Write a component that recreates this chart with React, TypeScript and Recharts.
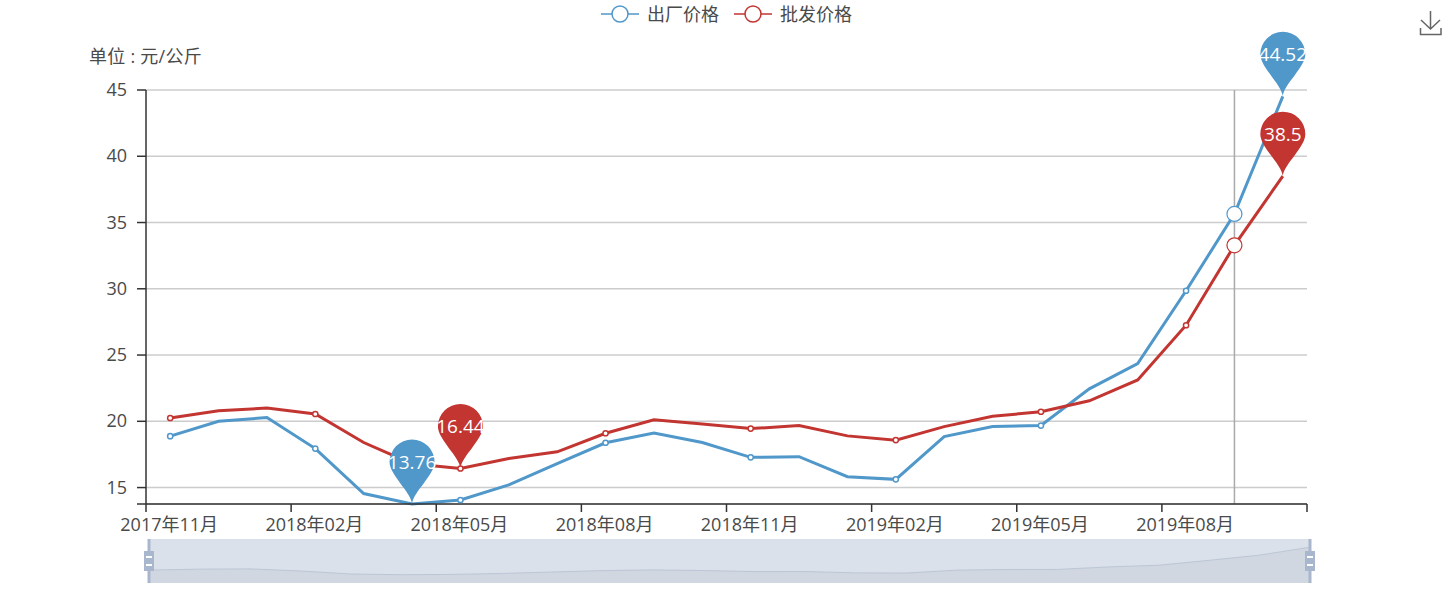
import React from "react";
import { LineChart, Line, XAxis, YAxis, CartesianGrid, ReferenceLine, ReferenceDot, Legend, Brush, AreaChart, Area } from "recharts";

const months = [
  "2017年11月", "2017年12月", "2018年01月", "2018年02月", "2018年03月", "2018年04月",
  "2018年05月", "2018年06月", "2018年07月", "2018年08月", "2018年09月", "2018年10月",
  "2018年11月", "2018年12月", "2019年01月", "2019年02月", "2019年03月", "2019年04月",
  "2019年05月", "2019年06月", "2019年07月", "2019年08月", "2019年09月", "2019年10月",
];
const factoryPrice = [
  18.88, 20.0, 20.28, 17.94, 14.55, 13.76, 14.06, 15.2, 16.8, 18.38, 19.12, 18.4,
  17.28, 17.33, 15.82, 15.62, 18.85, 19.6, 19.68, 22.45, 24.35, 29.85, 35.65, 44.52,
];
const wholesalePrice = [
  20.25, 20.8, 21.0, 20.55, 18.4, 16.8, 16.44, 17.2, 17.7, 19.1, 20.12, 19.8,
  19.45, 19.68, 18.9, 18.58, 19.6, 20.38, 20.72, 21.55, 23.12, 27.25, 33.28, 38.5,
];
const yTicks = [13.76, 15, 20, 25, 30, 35, 40, 45];

const BLUE = "#5097ca";
const RED = "#c23531";
const TEXT = "#4a4a4a";
const FONT = "'Open Sans', 'Noto Sans CJK SC', sans-serif";

const WIDTH = 1452;
const HEIGHT = 594;
const PLOT_LEFT = 146;
const PLOT_RIGHT = 1307;
const band = (PLOT_RIGHT - PLOT_LEFT) / months.length;
const HOVER = 22;

const data = months.map((month, i) => ({ month, factory: factoryPrice[i], wholesale: wholesalePrice[i] }));

function XTick({ x, y, payload, index }: any) {
  const left = x - band / 2;
  const isLast = index === Math.floor((months.length - 1) / 3);
  return (
    <g>
      <line x1={left} x2={left} y1={y} y2={y + 8} stroke="#333" strokeWidth={1.5} />
      {isLast && <line x1={left + band * 3} x2={left + band * 3} y1={y} y2={y + 8} stroke="#333" strokeWidth={1.5} />}
      <text x={x - 1} y={y + 27} textAnchor="middle" fontSize={18} fontFamily={FONT} fill={TEXT}>{payload.value}</text>
    </g>
  );
}

function YTick({ x, y, payload }: any) {
  if (payload.value === yTicks[0]) return null;
  return (
    <text x={x - 8} y={y + 6} textAnchor="end" fontSize={18} fontFamily={FONT} fill={TEXT}>{payload.value}</text>
  );
}

// small open circles on every third month, larger one on the hovered month
function makeDot(color: string, values: number[]) {
  return function SeriesDot({ cx, cy, index }: any) {
    if (index === HOVER) {
      return <circle key={index} cx={cx} cy={cy} r={7.5} fill="#fff" stroke={color} strokeWidth={1.2} />;
    }
    if (index % 3 === 0 && index < values.length - 1) {
      return <circle key={index} cx={cx} cy={cy} r={2.6} fill="#fff" stroke={color} strokeWidth={1.5} />;
    }
    return <g key={index} />;
  };
}

function Pin({ cx, cy, color, label }: any) {
  const top = cy - 42;
  return (
    <g>
      <path
        d={`M${cx} ${cy}
            C${cx - 1} ${cy - 12} ${cx - 22.5} ${top + 13} ${cx - 22.5} ${top}
            A22.5 22.5 0 1 1 ${cx + 22.5} ${top}
            C${cx + 22.5} ${top + 13} ${cx + 1} ${cy - 12} ${cx} ${cy}Z`}
        fill={color}
      />
      <text x={cx} y={top + 7} textAnchor="middle" fontSize={19} fontFamily={FONT} fill="#fff">{label}</text>
    </g>
  );
}

function Handle({ x, y, width, height }: any) {
  const midY = y + height / 2;
  return (
    <g>
      <rect x={x + width / 2 - 1.5} y={y} width={3} height={height} fill="#a9b7ce" />
      <rect x={x} y={midY - 10} width={width} height={20} fill="#a9b7ce" />
      <rect x={x + 2} y={midY - 5} width={width - 4} height={2} fill="#fff" />
      <rect x={x + 2} y={midY + 3} width={width - 4} height={2} fill="#fff" />
    </g>
  );
}

function LegendContent() {
  const items = [
    { name: "出厂价格", color: BLUE },
    { name: "批发价格", color: RED },
  ];
  return (
    <div style={{ display: "flex", gap: 15, fontFamily: FONT, fontSize: 18, color: TEXT, lineHeight: "24px" }}>
      {items.map((item) => (
        <div key={item.name} style={{ display: "flex", alignItems: "center", gap: 8 }}>
          <svg width={38} height={24}>
            <line x1={0} x2={38} y1={12} y2={12} stroke={item.color} strokeWidth={1.5} />
            <circle cx={19} cy={12} r={8} fill="#fff" stroke={item.color} strokeWidth={1.5} />
          </svg>
          <span>{item.name}</span>
        </div>
      ))}
    </div>
  );
}

export default function App() {
  return (
    <div style={{ position: "absolute", left: 0, top: 0, width: WIDTH, height: HEIGHT, background: "#fff" }}>
      <div style={{ position: "absolute", left: 89, top: 44, fontFamily: FONT, fontSize: 18, color: TEXT, lineHeight: "24px", letterSpacing: 0.25 }}>
        单位 : 元/公斤
      </div>
      <svg style={{ position: "absolute", left: 1418, top: 10 }} width={26} height={26} fill="none" stroke="#666" strokeWidth={1.5}>
        <path d="M12.5 1V19M3 10L12.5 19L22 10M2.5 18V24.5H23V18" />
      </svg>
      {/* slider background: thumbnail of the first series */}
      <div style={{ position: "absolute", left: 149, top: 539, width: 1161, height: 44, background: "#dbe1ea" }}>
        <AreaChart width={1161} height={44} data={data} margin={{ top: 0, right: 0, bottom: 0, left: 0 }}>
          <XAxis dataKey="month" hide />
          <YAxis hide type="number" domain={[4.5, 53.7]} />
          <Area dataKey="factory" stroke="#bcc6d6" strokeWidth={1} fill="#d0d7e1" fillOpacity={1} isAnimationActive={false} />
        </AreaChart>
      </div>
      <LineChart
        width={WIDTH}
        height={HEIGHT}
        data={data}
        margin={{ top: 90, left: 106, right: WIDTH - PLOT_RIGHT, bottom: 16 }}
        style={{ position: "absolute", left: 0, top: 0 }}
      >
        <CartesianGrid vertical={false} stroke="#ccc" strokeWidth={1.5} />
        <XAxis
          dataKey="month"
          scale="band"
          interval={2}
          height={30}
          tickLine={false}
          tickSize={0}
          tickMargin={0}
          tick={<XTick />}
          axisLine={{ stroke: "#333", strokeWidth: 1.5 }}
        />
        <YAxis
          type="number"
          width={40}
          domain={[yTicks[0], 45]}
          ticks={yTicks}
          interval={0}
          tick={<YTick />}
          tickSize={9}
          tickLine={{ stroke: "#333", strokeWidth: 1.5 }}
          axisLine={{ stroke: "#333", strokeWidth: 1.5 }}
        />
        <ReferenceLine x={months[HOVER]} stroke="#aaa" strokeWidth={1.5} />
        <Line dataKey="factory" stroke={BLUE} strokeWidth={3} dot={makeDot(BLUE, factoryPrice)} activeDot={false} isAnimationActive={false} />
        <Line dataKey="wholesale" stroke={RED} strokeWidth={3} dot={makeDot(RED, wholesalePrice)} activeDot={false} isAnimationActive={false} />
        <ReferenceDot x={months[5]} y={13.76} ifOverflow="visible" shape={(p: any) => <Pin {...p} color={BLUE} label="13.76" />} />
        <ReferenceDot x={months[23]} y={44.52} ifOverflow="visible" shape={(p: any) => <Pin {...p} color={BLUE} label="44.52" />} />
        <ReferenceDot x={months[6]} y={16.44} ifOverflow="visible" shape={(p: any) => <Pin {...p} color={RED} label="16.44" />} />
        <ReferenceDot x={months[23]} y={38.5} ifOverflow="visible" shape={(p: any) => <Pin {...p} color={RED} label="38.5" />} />
        <Legend
          verticalAlign="middle"
          align="center"
          content={<LegendContent />}
          wrapperStyle={{ top: 2, left: 601, width: "auto" }}
        />
        <Brush
          dataKey="month"
          x={144}
          y={539}
          width={1171}
          height={44}
          stroke="transparent"
          fill="none"
          travellerWidth={10}
          traveller={<Handle />}
          tickFormatter={() => ""}
        />
      </LineChart>
    </div>
  );
}
